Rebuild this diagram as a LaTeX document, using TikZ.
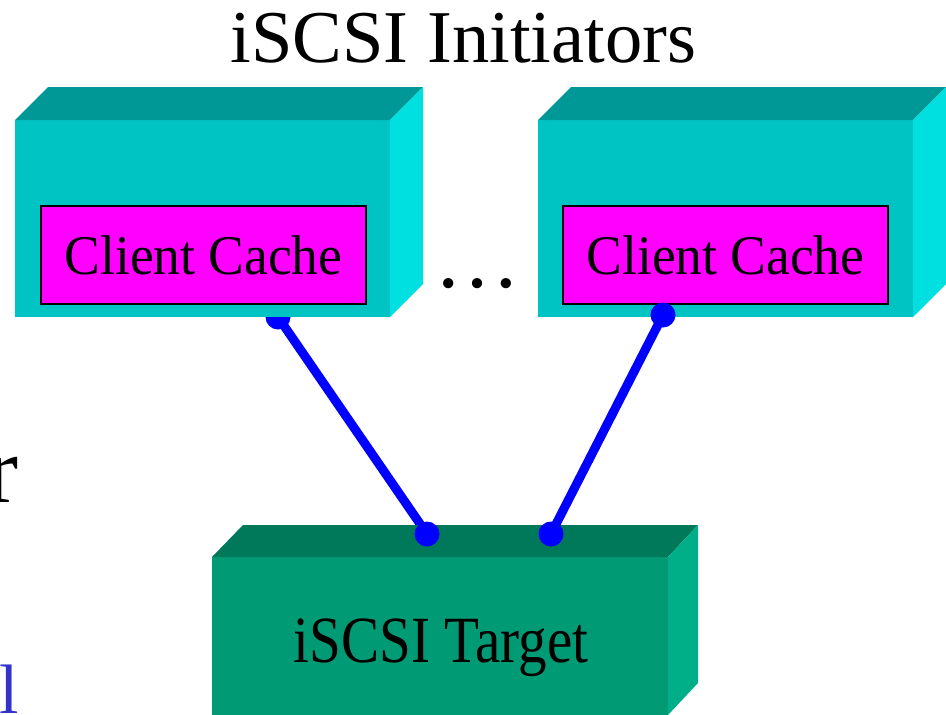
\documentclass[tikz,border=0pt]{standalone}
\usepackage{fontspec}
\setmainfont{Liberation Serif}
\usetikzlibrary{calc}
\definecolor{cyfront}{HTML}{00C4C4}
\definecolor{cytop}{HTML}{009797}
\definecolor{cyside}{HTML}{00E0E0}
\definecolor{tgfront}{HTML}{009B74}
\definecolor{tgtop}{HTML}{00785A}
\definecolor{tgside}{HTML}{00AF88}
\definecolor{cachemag}{HTML}{FF00FF}
\definecolor{linkblue}{HTML}{0000FF}
\definecolor{partblue}{HTML}{3333CC}
\tikzset{
  frontface/.style={rectangle, inner sep=0pt, outer sep=0pt, draw=none, anchor=north west},
  cachebox/.style={rectangle, inner sep=0pt, outer sep=0pt, draw=black, line width=1.5pt, fill=cachemag, anchor=north west, minimum width=325pt, minimum height=98pt},
  link/.style={draw=linkblue, line width=9pt},
  linkdot/.style={fill=linkblue},
}
\begin{document}
\begin{tikzpicture}[x=1pt,y=-1pt]
\clip (0,0) rectangle (946,715);
\useasboundingbox (0,0) rectangle (946,715);

% coordinates of link ends
\coordinate (a1) at (278,317);
\coordinate (a2) at (663,315);
\coordinate (b1) at (427,534);
\coordinate (b2) at (551,534);

% left link drawn behind the left initiator box
\draw[link] (a1) -- (b1);
\fill[linkdot] (a1) circle (12.5);

% left initiator
\node[frontface, fill=cyfront, minimum width=375pt, minimum height=197pt] (init1) at (15,120) {};
\fill[cytop] (init1.north west) -- ++(33,-33) -- ($(init1.north east)+(33,-33)$) -- (init1.north east) -- cycle;
\fill[cyside] (init1.north east) -- ++(33,-33) -- ($(init1.south east)+(33,-33)$) -- (init1.south east) -- cycle;
\node[cachebox] (cache1) at (41,206) {\fontsize{56}{64}\selectfont\scalebox{0.955}[1]{Client Cache}};

% right initiator
\node[frontface, fill=cyfront, minimum width=375pt, minimum height=197pt] (init2) at (538,120) {};
\fill[cytop] (init2.north west) -- ++(33,-33) -- ($(init2.north east)+(33,-33)$) -- (init2.north east) -- cycle;
\fill[cyside] (init2.north east) -- ++(33,-33) -- ($(init2.south east)+(33,-33)$) -- (init2.south east) -- cycle;
\node[cachebox] (cache2) at (563,206) {\fontsize{56}{64}\selectfont\scalebox{0.955}[1]{Client Cache}};

% target
\node[frontface, fill=tgfront, minimum width=456pt, minimum height=180pt] (target) at (212,557) {};
\fill[tgtop] (target.north west) -- ++(31,-32) -- ($(target.north east)+(30,-32)$) -- (target.north east) -- cycle;
\fill[tgside] (target.north east) -- ++(30,-32) -- ($(target.north east)+(30,126)$) -- ($(target.north east)+(0,158)$) -- cycle;
\node[anchor=base, inner sep=0pt] (tlabel) at (441,662) {\fontsize{66}{76}\selectfont\scalebox{0.865}[1]{iSCSI Target}};

% right link on top
\draw[link] (a2) -- (b2);
\fill[linkdot] (a2) circle (12.5);
\fill[linkdot] (b1) circle (12.5);
\fill[linkdot] (b2) circle (12.5);

% texts
\node[anchor=base, inner sep=0pt] (title) at (463.5,62) {\fontsize{74.5}{88}\selectfont iSCSI Initiators};
\node[anchor=base, inner sep=0pt] (dots) at (477,287) {\fontsize{86}{96}\selectfont …};
\node[anchor=base east, inner sep=0pt] (partr) at (19,502) {\fontsize{96}{110}\selectfont r};
\node[anchor=base east, inner sep=0pt, text=partblue] (partl) at (19,713) {\fontsize{70}{84}\selectfont l};
\end{tikzpicture}
\end{document}
